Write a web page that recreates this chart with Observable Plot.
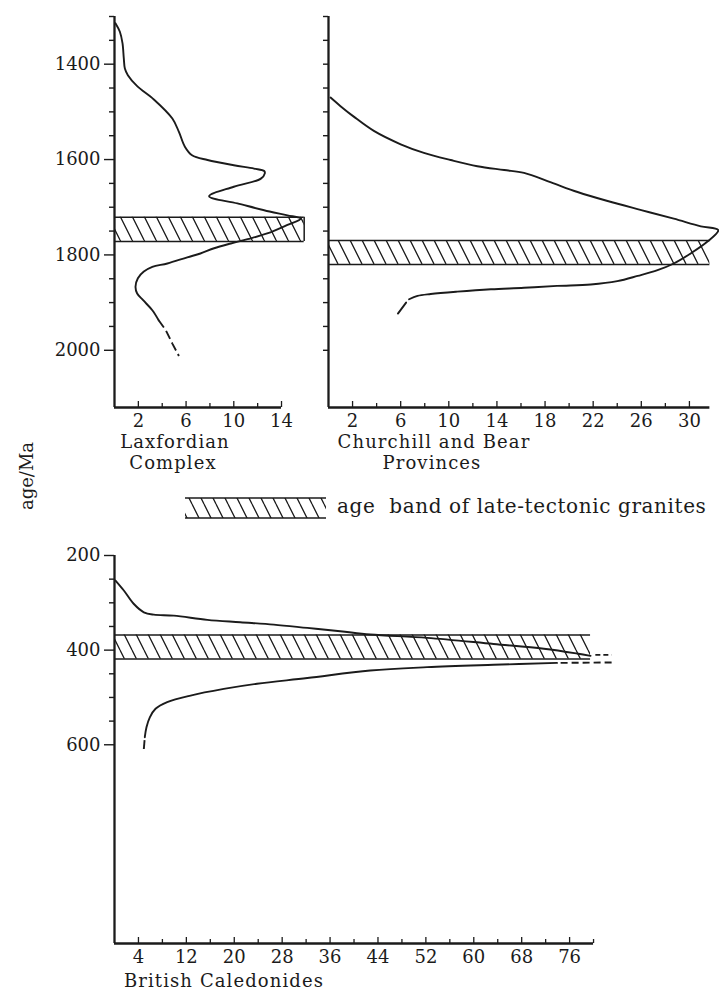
<!DOCTYPE html>
<html>
<head>
<meta charset="utf-8">
<script src="https://cdn.jsdelivr.net/npm/d3@7"></script>
<script src="https://cdn.jsdelivr.net/npm/@observablehq/plot@0.6"></script>
<style>
html, body { margin: 0; padding: 0; background: #fff; }
#fig { position: relative; width: 719px; height: 991px; overflow: hidden; background: #fff; }
#fig svg { position: absolute; }
</style>
</head>
<body>
<div id="fig">
<svg width="0" height="0" style="left:0;top:0">
  <defs>
    <pattern id="hatch" patternUnits="userSpaceOnUse" width="12" height="24">
      <path d="M-12,0L0,24M0,0L12,24M12,0L24,24" stroke="#1b1b1b" stroke-width="1.3" fill="none"/>
    </pattern>
  </defs>
</svg>
</div>
<script>
// ---------- DATA ----------
// Laxfordian Complex (frequency vs age/Ma)
const laxfordianFreq = [0.08,0.45,0.67,0.78,0.87,1.12,1.9,3.3,4.85,5.4,5.9,6.5,7.8,10.0,11.7,12.55,12.6,12.27,10.0,7.93,10.3,13.0,14.5,15.6,14.5,12.8,11.15,9.75,8.35,7.2,6.1,4.43,3.17,2.46,1.96,1.76,1.9,2.4,3.17,3.7];
const laxfordianAge  = [1314,1332,1356,1388,1409,1423,1446,1474,1514,1542,1573,1591,1601,1612,1619,1624,1629,1640,1657,1677,1692,1709,1717,1724,1737,1755,1767,1776,1786,1797,1805,1818,1825,1835,1849,1867,1881,1895,1916,1937];
const laxfordianTailFreq = [3.7,4.3,4.85,5.4];
const laxfordianTailAge  = [1937,1958,1986,2012];
const laxfordianBand = [1721,1772];

// Churchill and Bear Provinces
const churchillFreq = [0.17,1.0,2.1,3.77,6.0,7.93,10.15,12.37,14.6,16.25,18.5,20.7,23.2,26.0,28.7,30.95,32.4,31.5,30.1,28.7,27.35,25.7,24.0,21.8,19.0,16.25,13.5,10.7,8.5,7.4,6.7];
const churchillAge  = [1470,1488,1510,1540,1568,1586,1601,1614,1622,1628,1648,1668,1687,1706,1724,1740,1748,1772,1797,1818,1832,1844,1855,1862,1865,1869,1872,1877,1882,1886,1893];
const churchillTailFreq = [6.45,5.77];
const churchillTailAge  = [1900,1923];
const churchillBand = [1770,1820];

// British Caledonides
const caledonianUpperFreq = [0.17,1.56,3.2,4.9,6.56,9.9,15.5,21.0,26.6,32.2,37.7,42.7,52.2,63.3,71.7,77.2,79.5];
const caledonianUpperAge  = [253,274,302,320,325,327,336,341,346,353,360,367,374,387,397,407,412];
const caledonianUpperTailFreq = [80.3,83.0];
const caledonianUpperTailAge  = [410,410];
const caledonianLowerFreq = [5.06,5.34,5.9,6.85,8.8,12.7,18.25,23.8,32.2,42.7,52.2,63.3,73.9];
const caledonianLowerAge  = [584,563,542,524,510,496,482,471,459,443,436,431,427];
const caledonianLowerHeadFreq = [4.9,5.06];
const caledonianLowerHeadAge  = [609,584];
const caledonianLowerTailFreq = [74.5,83.3];
const caledonianLowerTailAge  = [427,426];
const caledonianBand = [368,419];

// Tick values / labels
const laxXTicks = [2,4,6,8,10,12,14];
const laxXLabels = [2,6,10,14];
const churchillXTicks = [2,4,6,8,10,12,14,16,18,20,22,24,26,28,30];
const churchillXLabels = [2,6,10,14,18,22,26,30];
const caledonianXTicks = [4,8,12,16,20,24,28,32,36,40,44,48,52,56,60,64,68,72,76,80];
const caledonianXLabels = [4,12,20,28,36,44,52,60,68,76];
const topYLabels = [1400,1600,1800,2000];
const topYMinor = [1300,1350,1450,1500,1550,1650,1700,1750,1850,1900,1950];
const churchillYMinor = [1300,1350,1400,1450,1500,1550,1600,1650,1700,1750,1800,1850,1900,1950,2000];
const caledonianYLabels = [200,400,600];
const caledonianYMinor = [250,300,350,450,500,550];

const titles = [
  {text: "Laxfordian", x: 175, y: 448},
  {text: "Complex", x: 173, y: 469},
  {text: "Churchill and Bear", x: 434, y: 448},
  {text: "Provinces", x: 432, y: 469},
  {text: "British Caledonides", x: 224, y: 987}
];
const yTitle = "age/Ma";
const legendText = "age  band of late-tectonic granites";

// ---------- DRAWING ----------
const INK = "#1b1b1b";
const FONT = '"DejaVu Serif", "Liberation Serif", serif';
const fig = document.getElementById("fig");

function panel(cfg) {
  const {left, top, width, height, mL, mR, mT, mB, xDom, yDom, xAxisEnd,
         xTicks, xLabels, yLabels, yMinor, yLabelTick, band, bandEnd, bandEdge, lines} = cfg;
  const ppuY = (height - mT - mB) / (yDom[1] - yDom[0]);
  const yMax = yDom[1];
  const labelSet = new Set(xLabels);
  const marks = [
    Plot.rect([band], {x1: () => 0, x2: () => bandEnd, y1: d => d[0], y2: d => d[1], fill: "url(#hatch)"}),
    Plot.ruleY(band, {x1: 0, x2: bandEnd, stroke: INK, strokeWidth: 1.5}),
  ];
  if (bandEdge) marks.push(Plot.ruleX([bandEnd], {y1: band[0], y2: band[1], stroke: INK, strokeWidth: 1.5}));
  // axes lines
  marks.push(Plot.ruleX([0], {stroke: INK, strokeWidth: 2.3}));
  marks.push(Plot.ruleY([yMax], {x1: 0, x2: xAxisEnd, stroke: INK, strokeWidth: 2.3}));
  // x ticks pointing inward (up)
  marks.push(Plot.ruleX(xTicks.filter(t => !labelSet.has(t)), {x: d => d, y1: yMax, y2: yMax - 4 / ppuY, stroke: INK, strokeWidth: 1.3}));
  marks.push(Plot.ruleX(xTicks.filter(t => labelSet.has(t)), {x: d => d, y1: yMax, y2: yMax - 6 / ppuY, stroke: INK, strokeWidth: 1.3}));
  marks.push(Plot.axisX(xLabels, {anchor: "bottom", tickSize: 0, tickPadding: 7, label: null, tickFormat: "d", fontSize: 18}));
  // y ticks
  if (yLabels.length) marks.push(Plot.axisY(yLabels, {anchor: "left", tickSize: yLabelTick, tickPadding: 4, label: null, strokeWidth: 1.4, tickFormat: "d", fontSize: 18}));
  marks.push(Plot.axisY(yMinor, {anchor: "left", tickSize: 5, tickFormat: () => "", label: null, strokeWidth: 1.4}));
  // curves
  for (const l of lines) {
    marks.push(Plot.line(l.y, {x: l.x, y: l.y, curve: l.curve || "catmull-rom", stroke: INK,
      strokeWidth: 1.9, strokeDasharray: l.dash || null, strokeLinecap: l.dash ? "butt" : "round"}));
  }
  const svg = Plot.plot({
    width, height, marginLeft: mL, marginRight: mR, marginTop: mT, marginBottom: mB,
    x: {domain: xDom},
    y: {domain: yDom, reverse: true},
    style: {fontFamily: FONT, fontSize: "18px", color: INK, background: "transparent", overflow: "visible"},
    marks
  });
  svg.style.position = "absolute";
  svg.style.left = left + "px";
  svg.style.top = top + "px";
  svg.style.maxWidth = "none";
  fig.appendChild(svg);
}

// Laxfordian Complex
panel({
  left: 0, top: 0, width: 320, height: 440, mL: 114, mR: 2, mT: 16, mB: 33,
  xDom: [0, 17.1], yDom: [1300, 2120], xAxisEnd: 14,
  xTicks: laxXTicks, xLabels: laxXLabels, yLabels: topYLabels, yMinor: topYMinor, yLabelTick: 10,
  band: laxfordianBand, bandEnd: 15.9, bandEdge: true,
  lines: [
    {x: laxfordianFreq, y: laxfordianAge},
    {x: laxfordianTailFreq, y: laxfordianTailAge, dash: "9,4", curve: "linear"}
  ]
});

// Churchill and Bear Provinces
panel({
  left: 290, top: 0, width: 429, height: 440, mL: 38, mR: 0, mT: 16, mB: 33,
  xDom: [0, 32.5], yDom: [1300, 2120], xAxisEnd: 31.7,
  xTicks: churchillXTicks, xLabels: churchillXLabels, yLabels: [], yMinor: churchillYMinor, yLabelTick: 5,
  band: churchillBand, bandEnd: 31.7, bandEdge: false,
  lines: [
    {x: churchillFreq, y: churchillAge},
    {x: churchillTailFreq, y: churchillTailAge, curve: "linear"}
  ]
});

// British Caledonides
panel({
  left: 0, top: 530, width: 640, height: 443, mL: 114, mR: 23, mT: 25, mB: 30,
  xDom: [0, 84], yDom: [200, 1020], xAxisEnd: 80,
  xTicks: caledonianXTicks, xLabels: caledonianXLabels, yLabels: caledonianYLabels, yMinor: caledonianYMinor, yLabelTick: 10,
  band: caledonianBand, bandEnd: 79.5, bandEdge: false,
  lines: [
    {x: caledonianUpperFreq, y: caledonianUpperAge},
    {x: caledonianUpperTailFreq, y: caledonianUpperTailAge, dash: "5,3", curve: "linear"},
    {x: caledonianLowerFreq, y: caledonianLowerAge},
    {x: caledonianLowerHeadFreq, y: caledonianLowerHeadAge, dash: "9,4", curve: "linear"},
    {x: caledonianLowerTailFreq, y: caledonianLowerTailAge, dash: "7,4", curve: "linear"}
  ]
});

// Text overlay: titles, y label, legend
const ov = d3.create("svg").attr("width", 719).attr("height", 991)
  .style("left", "0px").style("top", "0px").style("position", "absolute")
  .style("font-family", FONT).style("fill", INK);
ov.selectAll("text.title").data(titles).join("text").attr("class", "title")
  .attr("x", d => d.x).attr("y", d => d.y).attr("text-anchor", "middle")
  .attr("font-size", 18).attr("letter-spacing", 1.1).text(d => d.text);
ov.append("text").attr("transform", "translate(33,476) rotate(-90)").attr("text-anchor", "middle")
  .attr("font-size", 18).text(yTitle);
ov.append("rect").attr("x", 185).attr("y", 498).attr("width", 141).attr("height", 20).attr("fill", "url(#hatch)");
ov.append("line").attr("x1", 185).attr("x2", 326).attr("y1", 498).attr("y2", 498).attr("stroke", INK).attr("stroke-width", 1.4);
ov.append("line").attr("x1", 185).attr("x2", 326).attr("y1", 518).attr("y2", 518).attr("stroke", INK).attr("stroke-width", 1.4);
ov.append("text").attr("x", 337).attr("y", 513).attr("font-size", 20).attr("letter-spacing", 0.6)
  .style("white-space", "pre").text(legendText);
fig.appendChild(ov.node());
</script>
</body>
</html>
